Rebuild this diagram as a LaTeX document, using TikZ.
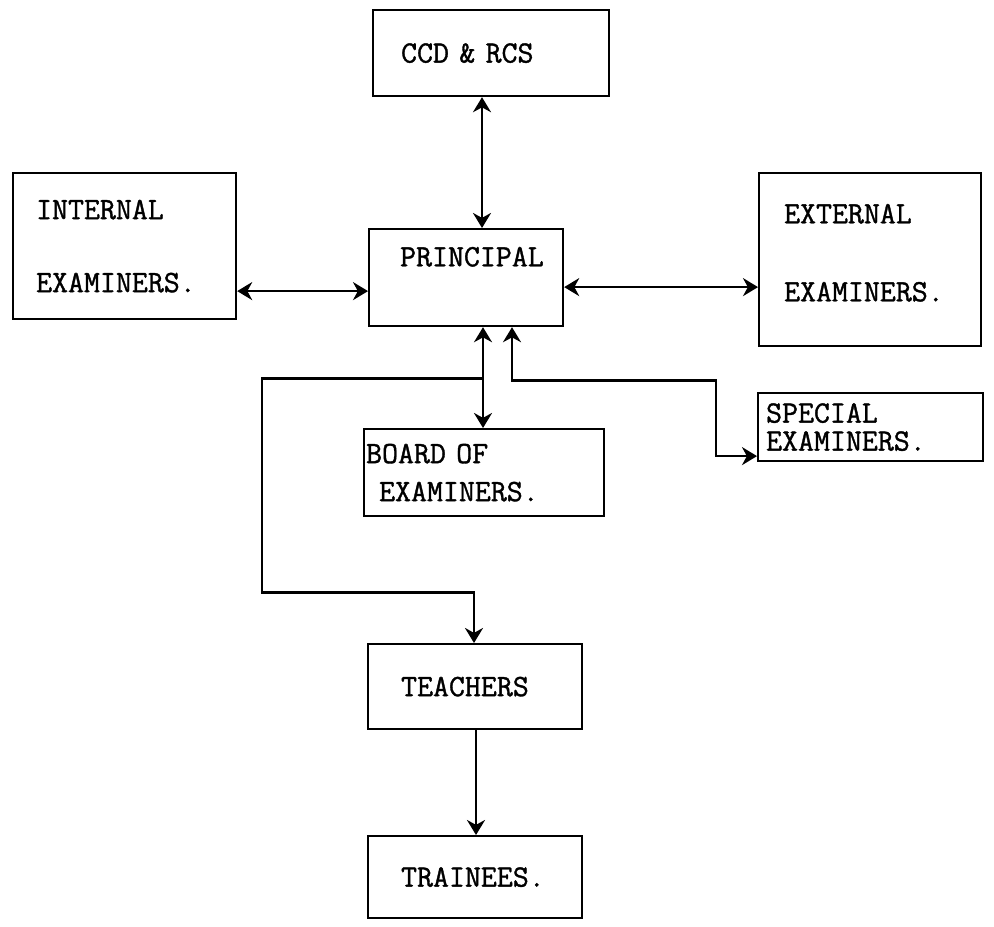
\documentclass[tikz,border=0pt]{standalone}
\usepackage{fontspec}
\newfontfamily\typewriter{Latin Modern Mono}[FakeBold=1.2]
\usepackage{tikz}
\usetikzlibrary{arrows.meta}

\begin{document}
\begin{tikzpicture}[x=0.5pt,y=-0.5pt,
    box/.style={draw,line width=1.1pt,anchor=north west,align=left,
      inner xsep=0pt,inner ysep=0pt,font=\fontsize{15.5}{18}\selectfont\typewriter},
    link/.style={line width=1.3pt,>={Stealth[length=7.5pt,width=9pt]}}]
 \useasboundingbox (0,0) rectangle (994,926);
 % boxes
 \node[box,minimum width=118pt,minimum height=43pt,text width=90pt] (CCD) at (372,9) {CCD \& RCS};
 \node[box,minimum width=111.5pt,minimum height=73pt,text width=88.5pt] (IE) at (12,172)
  {INTERNAL\\[18.5pt]EXAMINERS.};
 \node[box,minimum width=97pt,minimum height=48.5pt,text width=66pt,text depth=21pt] (PR) at (368,228) {PRINCIPAL};
 \node[box,minimum width=111pt,minimum height=86.5pt,text width=86pt,text depth=46pt] (EE) at (758,172)
  {EXTERNAL\\[21pt]EXAMINERS.};
 \node[box,minimum width=120pt,minimum height=43.5pt,text width=118pt] (BOE) at (363,428)
  {BOARD OF\\[1pt]\hspace*{6.5pt}EXAMINERS.};
 \node[box,minimum width=112.5pt,minimum height=34pt,text width=104.5pt] (SE) at (757,392)
  {SPECIAL\\[-4pt]EXAMINERS.};
 \node[box,minimum width=107pt,minimum height=42.5pt,text width=74pt] (TCH) at (367,643) {TEACHERS};
 \node[box,minimum width=107pt,minimum height=41pt,text width=74pt] (TRN) at (367,835) {TRAINEES.};
 % links
 \draw[link,<->] ([xshift=55pt]CCD.south west) -- ([xshift=57pt]PR.north west);
 \draw[link,<->] ([yshift=-22.5pt]IE.east) -- ([yshift=-6.75pt]PR.west);
 \draw[link,<->] ([yshift=-4.75pt]PR.east) -- ([yshift=-13.75pt]EE.west);
 \draw[link,<->] ([xshift=57.5pt]PR.south west) -- ([xshift=60pt]BOE.north west);
 \draw[link,<->] ([xshift=72pt]PR.south west) -- ++(0,53) -- ++(204,0) |- ([yshift=-14.5pt]SE.west);
 \draw[link,->] ([xshift=57.5pt]PR.south west) ++(0,51) -| ++(-221,214) -| ([xshift=53.5pt]TCH.north west);
 \draw[link,->] ([xshift=54.5pt]TCH.south west) -- ([xshift=54.5pt]TRN.north west);
\end{tikzpicture}
\end{document}
